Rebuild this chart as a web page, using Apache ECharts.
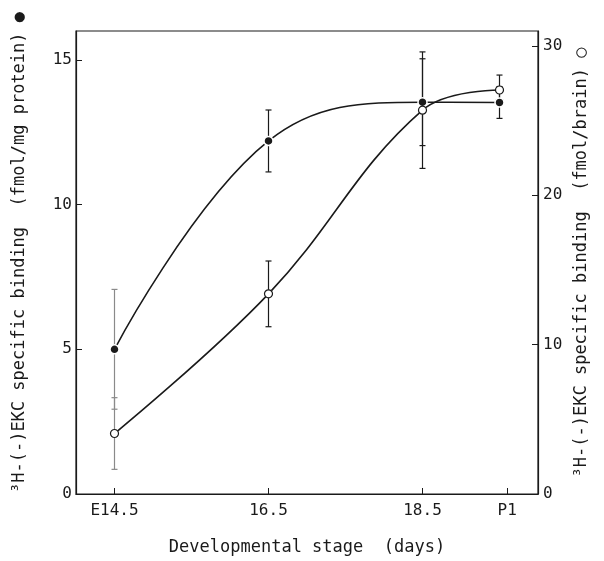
<!DOCTYPE html>
<html>
<head>
<meta charset="utf-8">
<script src="https://cdn.jsdelivr.net/npm/echarts@6/dist/echarts.min.js"></script>
<style>
  html, body { margin: 0; padding: 0; background: #fff; }
  #chart { width: 604px; height: 561px; }
</style>
</head>
<body>
<div id="chart"></div>
<script>
// developmental stage in days (P1 drawn just after E19.5)
const stages = [14.5, 16.5, 18.5, 19.5]
const tickValues = [14.5, 16.5, 18.5, 19.6]
const tickLabels = ['E14.5', '16.5', '18.5', 'P1']

// filled circles, left axis (fmol/mg protein)
const perProtein = [5.0, 12.2, 13.54, 13.53]
const perProteinErr = [2.07, 1.07, 1.5, 0.55]

// open circles, right axis (fmol/brain)
const perBrain = [4.05, 13.4, 25.7, 27.05]
const perBrainErr = [2.4, 2.2, 3.9, 1.0]

const font = 'DejaVu Sans Mono'
const ink = '#1a1a1a'

function errData(vals, errs) {
  return stages.map((x, i) => [x, vals[i] - errs[i], vals[i] + errs[i]])
}

function renderErr(params, api) {
  const lo = api.coord([api.value(0), api.value(1)])
  const hi = api.coord([api.value(0), api.value(2)])
  const w = 3
  const col = params.dataIndex === 0 ? '#8a8a8a' : ink
  const style = { stroke: col, lineWidth: 1.2 }
  return {
    type: 'group',
    children: [
      { type: 'line', shape: { x1: lo[0], y1: lo[1], x2: hi[0], y2: hi[1] }, style: style },
      { type: 'line', shape: { x1: lo[0] - w, y1: lo[1], x2: lo[0] + w, y2: lo[1] }, style: style },
      { type: 'line', shape: { x1: hi[0] - w, y1: hi[1], x2: hi[0] + w, y2: hi[1] }, style: style }
    ]
  }
}

const chart = echarts.init(document.getElementById('chart'))
chart.setOption({
  backgroundColor: '#fff',
  animation: false,
  textStyle: { fontFamily: font, color: ink },
  grid: {
    left: 76, right: 66, top: 31, bottom: 66,
    show: true, borderColor: ink, borderWidth: 1.2, backgroundColor: 'transparent'
  },
  xAxis: {
    type: 'value',
    min: 14,
    max: 20,
    name: 'Developmental stage  (days)',
    nameLocation: 'middle',
    nameGap: 45,
    nameTextStyle: { fontFamily: font, fontSize: 17, color: ink },
    splitLine: { show: false },
    axisLine: { lineStyle: { color: ink, width: 1.2 } },
    axisTick: { inside: true, length: 6, customValues: tickValues, lineStyle: { color: ink } },
    axisLabel: {
      customValues: tickValues,
      margin: 9,
      fontFamily: font,
      fontSize: 16,
      color: ink,
      formatter: v => tickLabels[tickValues.indexOf(v)]
    }
  },
  yAxis: [{
    type: 'value',
    position: 'left',
    min: 0,
    max: 16,
    interval: 5,
    name: '³H-(-)EKC specific binding  (fmol/mg protein) ●',
    nameLocation: 'middle',
    nameRotate: 90,
    nameGap: 48,
    nameTextStyle: { fontFamily: font, fontSize: 17, color: ink, padding: [0, 0, 0, 20] },
    splitLine: { show: false },
    axisLine: { show: true, lineStyle: { color: ink, width: 1.2 } },
    axisTick: { show: true, inside: true, length: 6, lineStyle: { color: ink } },
    axisLabel: { margin: 4, fontFamily: font, fontSize: 16, color: ink, showMaxLabel: false }
  }, {
    type: 'value',
    position: 'right',
    min: 0,
    max: 31,
    interval: 10,
    name: '³H-(-)EKC specific binding  (fmol/brain) ○',
    nameLocation: 'middle',
    nameRotate: 90,
    nameGap: 34,
    nameTextStyle: { fontFamily: font, fontSize: 17, color: ink },
    splitLine: { show: false },
    axisLine: { show: true, lineStyle: { color: ink, width: 1.2 } },
    axisTick: { show: true, inside: true, length: 6, lineStyle: { color: ink } },
    axisLabel: { margin: 5, fontFamily: font, fontSize: 16, color: ink, showMaxLabel: false }
  }],
  series: [{
    type: 'custom',
    yAxisIndex: 0,
    z: 1,
    renderItem: renderErr,
    data: errData(perProtein, perProteinErr)
  }, {
    type: 'custom',
    yAxisIndex: 1,
    z: 1,
    renderItem: renderErr,
    data: errData(perBrain, perBrainErr)
  }, {
    name: 'per protein',
    type: 'line',
    yAxisIndex: 0,
    z: 3,
    smooth: 0.4,
    symbol: 'circle',
    symbolSize: 9,
    lineStyle: { color: ink, width: 1.6 },
    itemStyle: { color: ink, borderColor: '#fff', borderWidth: 1.5 },
    data: stages.map((x, i) => [x, perProtein[i]])
  }, {
    name: 'per brain',
    type: 'line',
    yAxisIndex: 1,
    z: 4,
    smooth: 0.4,
    symbol: 'circle',
    symbolSize: 8,
    lineStyle: { color: ink, width: 1.6 },
    itemStyle: { color: '#fff', borderColor: ink, borderWidth: 1.2 },
    data: stages.map((x, i) => [x, perBrain[i]])
  }]
})
</script>
</body>
</html>
